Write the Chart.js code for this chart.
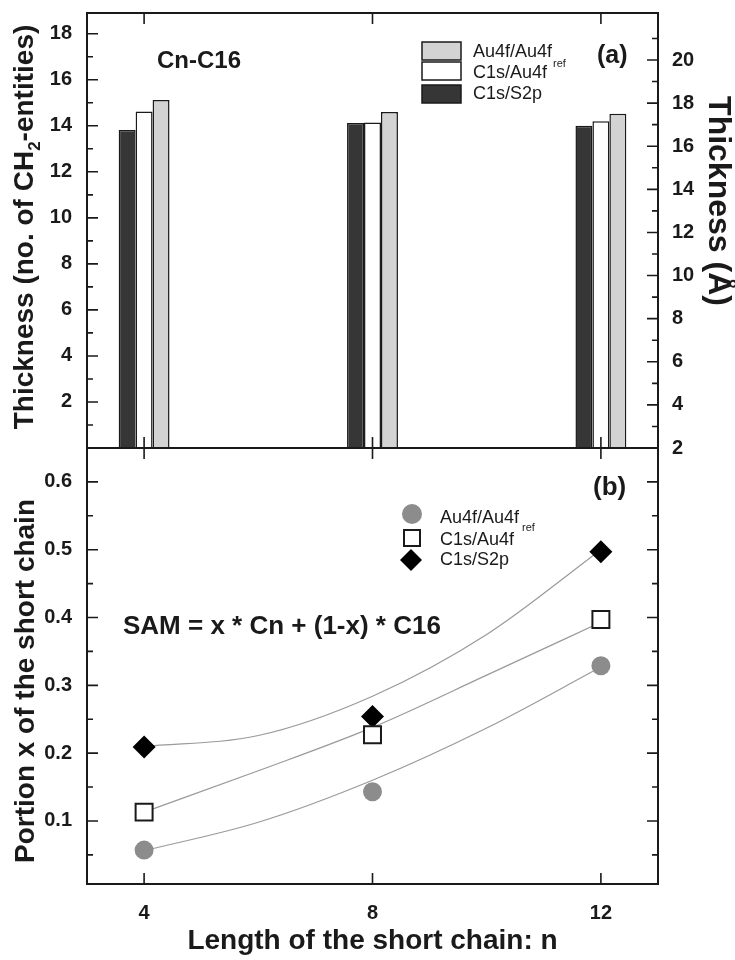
<!DOCTYPE html>
<html><head><meta charset="utf-8">
<script src="https://cdn.jsdelivr.net/npm/chart.js@4.4.0/dist/chart.umd.min.js"></script>
<style>
html,body{margin:0;padding:0;background:#fff;}
#wrap{position:relative;width:735px;height:960px;overflow:hidden;}
#top{position:absolute;left:0;top:0;}
#bot{position:absolute;left:0;top:440px;}
</style></head><body>
<div id="wrap"><canvas id="top" width="735" height="470"></canvas><canvas id="bot" width="735" height="520"></canvas></div>
<script>
// ---- data ----
const chainLength = [4, 8, 12];
// panel (a): thickness (no. of CH2 entities)
const thickS2p   = [13.82, 14.12, 14.00];
const thickC1sAu = [14.62, 14.14, 14.20];
const thickAuRef = [15.12, 14.60, 14.52];
// panel (b): portion x of the short chain
const portionAuRef = [0.057, 0.143, 0.329];
const portionC1sAu = [0.113, 0.227, 0.397];
const portionS2p   = [0.209, 0.254, 0.497];
// fitted curves
const fitN       = [4, 6, 8, 10, 12];
const fitAuRef   = [0.056, 0.098, 0.160, 0.237, 0.327];
const fitC1sAu   = [0.113, 0.174, 0.238, 0.315, 0.393];
const fitS2p     = [0.210, 0.226, 0.284, 0.375, 0.500];
// ticks
const xTicks        = [4, 8, 12];
const yLeftMajor    = [2, 4, 6, 8, 10, 12, 14, 16, 18];
const yLeftMinor    = [1, 3, 5, 7, 9, 11, 13, 15, 17];
const yRightMajor   = [2, 4, 6, 8, 10, 12, 14, 16, 18, 20];
const yRightMinor   = [3, 5, 7, 9, 11, 13, 15, 17, 19, 21];
const yPortionMajor = [0.1, 0.2, 0.3, 0.4, 0.5, 0.6];
const yPortionMinor = [0.05, 0.15, 0.25, 0.35, 0.45, 0.55];

const FF = '"Liberation Sans", Arial, Helvetica, sans-serif';
const INK = '#1a1a1a';
Chart.defaults.font.family = FF;
Chart.defaults.color = INK;

function pts(xs, ys) { return xs.map((x, i) => ({x: x, y: ys[i]})); }
function setTicks(arr) { return s => { s.ticks = arr.map(v => ({value: v})); }; }
function fixW(w) { return s => { s.width = w; s.paddingTop = 0; s.paddingBottom = 0; s.paddingLeft = 0; s.paddingRight = 0; }; }
function fixH(h) { return s => { s.height = h; s.paddingTop = 0; s.paddingBottom = 0; s.paddingLeft = 0; s.paddingRight = 0; }; }

function frameTicks(spec) {
  return {
    id: 'frameTicks',
    afterDatasetsDraw(chart) {
      const ctx = chart.ctx, a = chart.chartArea;
      ctx.save();
      ctx.strokeStyle = INK;
      ctx.lineWidth = 1.6;
      ctx.beginPath();
      spec.forEach(s => {
        const sc = chart.scales[s.scale];
        s.values.forEach(v => {
          const p = sc.getPixelForValue(v);
          s.sides.forEach(side => {
            if (side === 'left') { ctx.moveTo(a.left, p); ctx.lineTo(a.left + s.len, p); }
            if (side === 'right') { ctx.moveTo(a.right, p); ctx.lineTo(a.right - s.len, p); }
            if (side === 'top') { ctx.moveTo(p, a.top); ctx.lineTo(p, a.top + s.len); }
            if (side === 'bottom') { ctx.moveTo(p, a.bottom); ctx.lineTo(p, a.bottom - s.len); }
          });
        });
      });
      ctx.stroke();
      ctx.lineWidth = 2;
      ctx.strokeRect(a.left, a.top, a.right - a.left, a.bottom - a.top);
      ctx.restore();
    }
  };
}

function text(ctx, str, x, y, size, weight, align) {
  ctx.font = (weight || 'normal') + ' ' + size + 'px ' + FF;
  ctx.textAlign = align || 'left';
  ctx.textBaseline = 'middle';
  ctx.fillStyle = INK;
  ctx.fillText(str, x, y);
}
function rotatedParts(ctx, parts, bx, cy, angle) {
  ctx.save();
  ctx.translate(bx, cy);
  ctx.rotate(angle);
  ctx.textBaseline = 'alphabetic';
  ctx.textAlign = 'left';
  ctx.fillStyle = INK;
  let total = 0;
  parts.forEach(p => { ctx.font = 'bold ' + p.size + 'px ' + FF; total += ctx.measureText(p.t).width; });
  let u = -total / 2;
  parts.forEach(p => {
    ctx.font = 'bold ' + p.size + 'px ' + FF;
    ctx.fillText(p.t, u, p.dy || 0);
    u += ctx.measureText(p.t).width;
  });
  ctx.restore();
}

const tickFont = {family: FF, size: 20, weight: 'bold'};

// ---------- panel (a) ----------
const topDecor = {
  id: 'topDecor',
  afterDraw(chart) {
    const ctx = chart.ctx;
    text(ctx, 'Cn-C16', 157, 61, 24, 'bold');
    text(ctx, '(a)', 597, 56, 25, 'bold');
    // legend
    const boxes = [
      {y: 42, h: 18, c: '#d3d3d3', t: 'Au4f/Au4f', my: 52.5},
      {y: 62, h: 18, c: '#ffffff', t: 'C1s/Au4f', my: 73.5},
      {y: 85, h: 18, c: '#363636', t: 'C1s/S2p', my: 94}
    ];
    ctx.save();
    boxes.forEach(b => {
      ctx.fillStyle = b.c;
      ctx.fillRect(422, b.y, 39, b.h);
      ctx.strokeStyle = INK; ctx.lineWidth = 1.5;
      ctx.strokeRect(422, b.y, 39, b.h);
      text(ctx, b.t, 473, b.my, 18, 'normal');
    });
    text(ctx, 'ref', 553, 64, 11, 'normal');
    ctx.restore();
    // axis titles
    rotatedParts(ctx, [
      {t: 'Thickness (no. of CH', size: 28},
      {t: '2', size: 17, dy: 7},
      {t: '-entities)', size: 28}
    ], 33, 227, -Math.PI / 2);
    rotatedParts(ctx, [{t: 'Thickness (Å)', size: 32}], 709, 201, Math.PI / 2);
  }
};

new Chart(document.getElementById('top'), {
  type: 'bar',
  data: {
    datasets: [
      {label: 'C1s/S2p', data: pts(chainLength, thickS2p), backgroundColor: '#363636', borderColor: INK, borderWidth: 1.5, yAxisID: 'y'},
      {label: 'C1s/Au4f', data: pts(chainLength, thickC1sAu), backgroundColor: '#ffffff', borderColor: INK, borderWidth: 1.5, yAxisID: 'y'},
      {label: 'Au4f/Au4f_ref', data: pts(chainLength, thickAuRef), backgroundColor: '#d3d3d3', borderColor: INK, borderWidth: 1.5, yAxisID: 'y'}
    ]
  },
  options: {
    responsive: false, animation: false, devicePixelRatio: 1,
    layout: {autoPadding: false, padding: {top: 13, bottom: 22, left: 0, right: 0}},
    plugins: {legend: {display: false}, tooltip: {enabled: false}},
    datasets: {bar: {categoryPercentage: 0.2227, barPercentage: 1}},
    scales: {
      x: {type: 'linear', min: 3, max: 13, offset: false, display: false,
          afterBuildTicks: setTicks(xTicks), afterFit: fixH(0)},
      y: {
        type: 'linear', position: 'left', min: 0, max: 18.9,
        afterBuildTicks: setTicks(yLeftMajor),
        afterFit: fixW(87),
        grid: {display: false, drawTicks: false}, border: {display: false},
        ticks: {font: tickFont, color: INK, padding: 15, callback: v => String(v)}
      },
      y2: {
        type: 'linear', position: 'right', min: 2, max: 22.18,
        afterBuildTicks: setTicks(yRightMajor),
        afterFit: fixW(77),
        grid: {display: false, drawTicks: false}, border: {display: false},
        ticks: {font: tickFont, color: INK, padding: 14, callback: v => String(v)}
      }
    }
  },
  plugins: [frameTicks([
    {scale: 'x', values: xTicks, sides: ['top', 'bottom'], len: 11},
    {scale: 'y', values: yLeftMajor, sides: ['left'], len: 11},
    {scale: 'y', values: yLeftMinor, sides: ['left'], len: 6},
    {scale: 'y2', values: yRightMajor, sides: ['right'], len: 11},
    {scale: 'y2', values: yRightMinor, sides: ['right'], len: 6}
  ]), topDecor]
});

// ---------- panel (b) ----------
const botDecor = {
  id: 'botDecor',
  afterDraw(chart) {
    const ctx = chart.ctx;
    text(ctx, '(b)', 593, 48, 26, 'bold');
    text(ctx, 'SAM = x * Cn + (1-x) * C16', 123, 187, 26, 'bold');
    // legend markers
    ctx.save();
    ctx.fillStyle = '#8c8c8c';
    ctx.beginPath(); ctx.arc(412, 74, 10, 0, Math.PI * 2); ctx.fill();
    ctx.fillStyle = '#fff'; ctx.strokeStyle = INK; ctx.lineWidth = 2;
    ctx.fillRect(404, 90, 16, 16); ctx.strokeRect(404, 90, 16, 16);
    ctx.fillStyle = '#000';
    ctx.beginPath(); ctx.moveTo(400, 120); ctx.lineTo(411, 109); ctx.lineTo(422, 120); ctx.lineTo(411, 131); ctx.closePath(); ctx.fill();
    ctx.restore();
    text(ctx, 'Au4f/Au4f', 440, 78, 18, 'normal');
    text(ctx, 'ref', 522, 88, 11, 'normal');
    text(ctx, 'C1s/Au4f', 440, 100, 18, 'normal');
    text(ctx, 'C1s/S2p', 440, 120, 18, 'normal');
    rotatedParts(ctx, [{t: 'Portion x of the short chain', size: 28}], 34, 241, -Math.PI / 2);
  }
};

const fitStyle = {type: 'line', borderColor: '#9a9a9a', borderWidth: 1.2, pointRadius: 0, fill: false, tension: 0.4, cubicInterpolationMode: 'monotone', order: 1};

new Chart(document.getElementById('bot'), {
  type: 'scatter',
  data: {
    datasets: [
      Object.assign({label: 'fit Au4f/Au4f_ref', data: pts(fitN, fitAuRef)}, fitStyle),
      Object.assign({label: 'fit C1s/Au4f', data: pts(fitN, fitC1sAu)}, fitStyle),
      Object.assign({label: 'fit C1s/S2p', data: pts(fitN, fitS2p)}, fitStyle),
      {label: 'Au4f/Au4f_ref', data: pts(chainLength, portionAuRef), pointStyle: 'circle', pointRadius: 9.5, backgroundColor: '#8c8c8c', borderColor: '#8c8c8c', borderWidth: 0, order: 0},
      {label: 'C1s/Au4f', data: pts(chainLength, portionC1sAu), pointStyle: 'rect', pointRadius: 12, backgroundColor: '#ffffff', borderColor: INK, borderWidth: 2, order: 0},
      {label: 'C1s/S2p', data: pts(chainLength, portionS2p), pointStyle: 'rectRot', pointRadius: 11.5, backgroundColor: '#000000', borderColor: '#000000', borderWidth: 0, order: 0}
    ]
  },
  options: {
    responsive: false, animation: false, devicePixelRatio: 1,
    layout: {autoPadding: false, padding: {top: 8, bottom: 0, left: 0, right: 77}},
    plugins: {legend: {display: false}, tooltip: {enabled: false}},
    scales: {
      x: {
        type: 'linear', min: 3, max: 13, offset: false,
        afterBuildTicks: setTicks(xTicks),
        afterFit: fixH(76),
        grid: {display: false, drawTicks: false}, border: {display: false},
        ticks: {font: tickFont, color: INK, padding: 17, callback: v => String(v)},
        title: {display: true, text: 'Length of the short chain: n', font: {family: FF, size: 28, weight: 'bold'}, color: INK, padding: {top: 0, bottom: 2}}
      },
      y: {
        type: 'linear', position: 'left', min: 0.007, max: 0.65,
        afterBuildTicks: setTicks(yPortionMajor),
        afterFit: fixW(87),
        grid: {display: false, drawTicks: false}, border: {display: false},
        ticks: {font: tickFont, color: INK, padding: 15, callback: v => String(v)}
      }
    }
  },
  plugins: [frameTicks([
    {scale: 'x', values: xTicks, sides: ['top', 'bottom'], len: 11},
    {scale: 'y', values: yPortionMajor, sides: ['left', 'right'], len: 11},
    {scale: 'y', values: yPortionMinor, sides: ['left', 'right'], len: 6}
  ]), botDecor]
});
</script>
</body></html>
